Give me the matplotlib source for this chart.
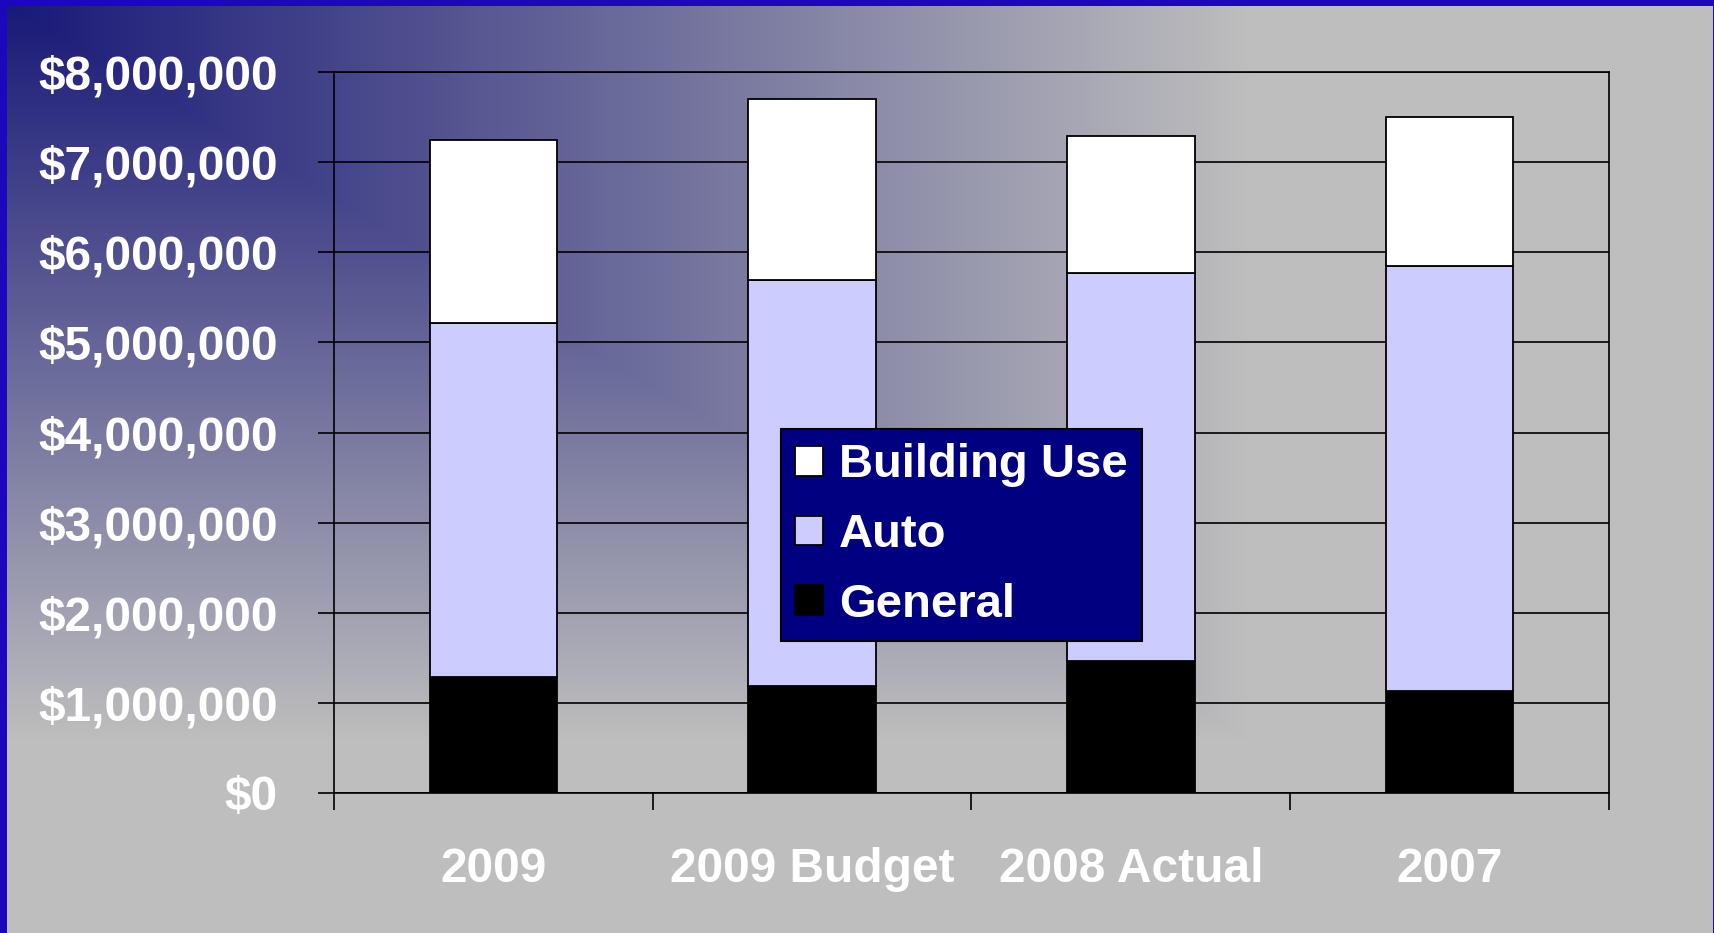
import matplotlib
matplotlib.use("Agg")
import matplotlib.pyplot as plt
import numpy as np
from matplotlib.ticker import FuncFormatter, FixedLocator

categories = ["2009", "2009 Budget", "2008 Actual", "2007"]
general = [1290000, 1190000, 1470000, 1135000]
auto = [3920000, 4505000, 4295000, 4715000]
building_use = [2040000, 2000000, 1530000, 1650000]

plt.rcParams['font.family'] = ['Liberation Sans', 'DejaVu Sans']
plt.rcParams['font.weight'] = 'bold'

W, H = 1715, 933
fig = plt.figure(figsize=(W / 100, H / 100), dpi=100)

# slide background: corner gradient from navy to grey, blue frame
yy, xx = np.mgrid[0:H, 0:W].astype(float)
t = np.clip(np.maximum(xx / 1250.0, yy / 740.0), 0, 1)
navy = np.array([24, 24, 120]) / 255.0
grey = np.array([190, 190, 190]) / 255.0
bg = navy[None, None, :] + (grey - navy)[None, None, :] * t[..., None]
frame = np.array([28, 6, 190]) / 255.0
bg[:6, :, :] = frame
bg[:, :7, :] = frame
bg[:, -2:, :] = frame
bgax = fig.add_axes([0, 0, 1, 1])
bgax.imshow(bg, aspect='auto', interpolation='nearest')
bgax.axis('off')

ax = fig.add_axes([334 / W, 1 - 793 / H, 1275 / W, 721 / H])
ax.patch.set_alpha(0)

x = np.arange(len(categories))
w = 0.4
lw = 1.3
b1 = ax.bar(x, general, w, color='black', edgecolor='black', linewidth=lw, label='General')
b2 = ax.bar(x, auto, w, bottom=general, color='#CCCCFF', edgecolor='black', linewidth=lw, label='Auto')
base = np.array(general) + np.array(auto)
b3 = ax.bar(x, building_use, w, bottom=base, color='white', edgecolor='black', linewidth=lw, label='Building Use')

ax.set_xlim(-0.5, len(categories) - 0.5)
ax.set_ylim(0, 8000000)
ax.set_yticks(np.arange(0, 8000001, 1000000))
ax.yaxis.set_major_formatter(FuncFormatter(lambda v, p: "${:,.0f}".format(v)))
ax.grid(axis='y', color='black', linewidth=1.2)
ax.set_axisbelow(True)

ax.set_xticks(x)
ax.set_xticklabels(categories)
ax.xaxis.set_minor_locator(FixedLocator(np.arange(-0.5, len(categories), 1.0)))
ax.tick_params(axis='x', which='major', length=0, pad=39, labelsize=34.5, labelcolor='white')
ax.tick_params(axis='x', which='minor', length=12, width=1.2, direction='out', color='black')
ax.tick_params(axis='y', length=11.5, width=1.2, pad=29, labelsize=34.5, labelcolor='white')
for lab in ax.get_xticklabels() + ax.get_yticklabels():
    lab.set_fontweight('bold')

for s in ax.spines.values():
    s.set_color('black')
    s.set_linewidth(1.2)

leg = ax.legend([b3, b2, b1], ['Building Use', 'Auto', 'General'],
                loc='upper left', bbox_to_anchor=(781 / W, 1 - 429 / H),
                bbox_transform=fig.transFigure, borderaxespad=0,
                fancybox=False, framealpha=1, facecolor='#000080', edgecolor='black',
                prop={'size': 34, 'weight': 'bold'},
                handlelength=0.6, handleheight=0.6, handletextpad=0.33,
                borderpad=0.3, labelspacing=0.55)
leg.get_frame().set_linewidth(1.5)
for txt in leg.get_texts():
    txt.set_color('white')

fig.savefig("out.png", dpi=100)
